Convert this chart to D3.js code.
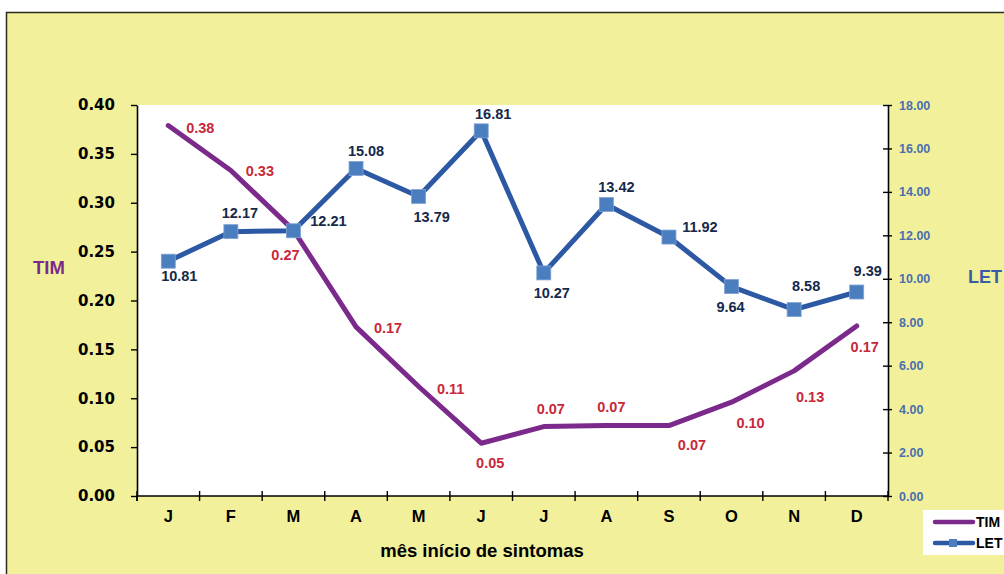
<!DOCTYPE html>
<html>
<head>
<meta charset="utf-8">
<script src="https://cdn.jsdelivr.net/npm/d3@7/dist/d3.min.js"></script>
<style>
  html, body { margin: 0; padding: 0; background: #ffffff; }
  svg { display: block; }
  text { font-family: "Liberation Sans", Arial, sans-serif; font-weight: bold; }
</style>
</head>
<body>
<svg id="chart" width="1004" height="574"></svg>
<script>
// Months of symptom onset
const months = ["J", "F", "M", "A", "M", "J", "J", "A", "S", "O", "N", "D"];
// TIM series (left axis)
const timValues = [0.379, 0.333, 0.272, 0.173, 0.112, 0.054, 0.071, 0.072, 0.072, 0.096, 0.128, 0.174];
// LET series (right axis)
const letValues = [10.81, 12.17, 12.21, 15.08, 13.79, 16.81, 10.27, 13.42, 11.92, 9.64, 8.58, 9.39];
// Axis tick values
const leftTicks = [0, 0.05, 0.10, 0.15, 0.20, 0.25, 0.30, 0.35, 0.40];
const rightTicks = [0, 2, 4, 6, 8, 10, 12, 14, 16, 18];

// Label placement relative to each point (dx, dy in px)
const timLabelOffset = [[32, 2], [29, 0], [-8, 25], [32, 1], [32, 2], [9, 20], [7, -18], [5, -19], [23, 19], [19, 21], [16, 26], [8, 21]];
const letLabelOffset = [[11, 15], [9, -19], [35, -10], [10, -18], [13, 20], [12, -17], [8, 20], [10, -18], [31, -10], [-1, 20], [12, -24], [11, -21]];

const colors = {
  bg: "#F2F09A",
  tim: "#7B2A8C",
  timLabel: "#C8283A",
  let: "#2D58A4",
  letMarker: "#4A7EBF",
  letLabel: "#14294B",
  rightTick: "#4A6FB0",
  letTitle: "#3A5BA6"
};

const svg = d3.select("#chart");

const plot = { left: 137, right: 888, top: 105, bottom: 496 };

// Outer frame
svg.append("rect")
  .attr("x", 6.5).attr("y", 12.5)
  .attr("width", 1010).attr("height", 600)
  .attr("fill", colors.bg)
  .attr("stroke", "#2b2b20").attr("stroke-width", 1.5);

// Plot area
svg.append("rect")
  .attr("x", plot.left).attr("y", plot.top)
  .attr("width", plot.right - plot.left).attr("height", plot.bottom - plot.top)
  .attr("fill", "#ffffff");

const x = d3.scaleBand().domain(d3.range(months.length)).range([plot.left, plot.right]).padding(0);
const cx = i => x(i) + x.bandwidth() / 2;
const yL = d3.scaleLinear().domain([0, 0.4]).range([plot.bottom, plot.top]);
const yR = d3.scaleLinear().domain([0, 18]).range([plot.bottom, plot.top]);

// Left axis
const gL = svg.append("g").attr("transform", `translate(${plot.left},0)`)
  .call(d3.axisLeft(yL).tickValues(leftTicks).tickFormat(d3.format(".2f")).tickSize(6).tickSizeOuter(0).tickPadding(16));
gL.select(".domain").attr("stroke", "#000").attr("stroke-width", 1.6);
gL.selectAll(".tick line").attr("stroke", "#000").attr("stroke-width", 1.4);
gL.selectAll(".tick text")
  .attr("fill", "#000")
  .style("font-family", "'DejaVu Sans', Verdana, sans-serif")
  .style("font-weight", "bold")
  .style("font-size", "15px");

// Right axis
const gR = svg.append("g").attr("transform", `translate(${plot.right},0)`)
  .call(d3.axisRight(yR).tickValues(rightTicks).tickFormat(d3.format(".2f")).tickSize(4).tickSizeOuter(0).tickPadding(7));
gR.select(".domain").attr("stroke", "#000").attr("stroke-width", 1.6);
gR.selectAll(".tick line").attr("x1", -5).attr("stroke", "#000").attr("stroke-width", 1.4);
gR.selectAll(".tick text")
  .attr("fill", colors.rightTick)
  .style("font-size", "12.5px");

// Bottom axis: month labels at band centres
const gB = svg.append("g").attr("transform", `translate(0,${plot.bottom})`)
  .call(d3.axisBottom(x).tickFormat(i => months[i]).tickSize(0).tickPadding(14));
gB.select(".domain").remove();
gB.selectAll(".tick text").attr("fill", "#000").style("font-size", "16.5px");

// Bottom axis line and ticks on band boundaries
svg.append("line")
  .attr("x1", plot.left - 1).attr("x2", plot.right)
  .attr("y1", plot.bottom).attr("y2", plot.bottom)
  .attr("stroke", "#000").attr("stroke-width", 1.6);
svg.append("line")
  .attr("x1", plot.left).attr("x2", plot.left)
  .attr("y1", plot.bottom).attr("y2", plot.bottom + 5)
  .attr("stroke", "#000").attr("stroke-width", 1.6);
svg.selectAll(".band-tick")
  .data(d3.range(months.length + 1))
  .join("line")
  .attr("class", "band-tick")
  .attr("x1", i => i < months.length ? x(i) : plot.right)
  .attr("x2", i => i < months.length ? x(i) : plot.right)
  .attr("y1", plot.bottom - 5).attr("y2", plot.bottom + 5)
  .attr("stroke", "#000").attr("stroke-width", 1.4);

// Axis titles
svg.append("text")
  .attr("x", 49).attr("y", 268).attr("dy", "0.35em")
  .attr("text-anchor", "middle")
  .attr("fill", colors.tim).style("font-size", "18.5px")
  .text("TIM");
svg.append("text")
  .attr("x", 968).attr("y", 277).attr("dy", "0.35em")
  .attr("fill", colors.letTitle).style("font-size", "18px")
  .text("LET");
svg.append("text")
  .attr("x", 482).attr("y", 551).attr("dy", "0.35em")
  .attr("text-anchor", "middle")
  .attr("fill", "#000").style("font-size", "18.5px")
  .text("mês início de sintomas");

// TIM line
svg.append("path")
  .datum(timValues)
  .attr("fill", "none")
  .attr("stroke", colors.tim)
  .attr("stroke-width", 5)
  .attr("stroke-linejoin", "round")
  .attr("stroke-linecap", "round")
  .attr("d", d3.line().x((d, i) => cx(i)).y(d => yL(d)));

// LET line
svg.append("path")
  .datum(letValues)
  .attr("fill", "none")
  .attr("stroke", colors.let)
  .attr("stroke-width", 5)
  .attr("stroke-linejoin", "round")
  .attr("d", d3.line().x((d, i) => cx(i)).y(d => yR(d)));

// LET markers
const m = 14;
svg.selectAll(".let-marker")
  .data(letValues)
  .join("rect")
  .attr("class", "let-marker")
  .attr("x", (d, i) => cx(i) - m / 2)
  .attr("y", d => yR(d) - m / 2)
  .attr("width", m).attr("height", m)
  .attr("fill", colors.letMarker)
  .attr("stroke", "#7FA3D4").attr("stroke-width", 0.8);

// Value labels
const fmt = d3.format(".2f");
svg.selectAll(".tim-label")
  .data(timValues)
  .join("text")
  .attr("class", "tim-label")
  .attr("x", (d, i) => cx(i) + timLabelOffset[i][0])
  .attr("y", (d, i) => yL(d) + timLabelOffset[i][1])
  .attr("dy", "0.35em")
  .attr("text-anchor", "middle")
  .attr("fill", colors.timLabel)
  .style("font-size", "14.5px")
  .text(d => fmt(d));

svg.selectAll(".let-label")
  .data(letValues)
  .join("text")
  .attr("class", "let-label")
  .attr("x", (d, i) => cx(i) + letLabelOffset[i][0])
  .attr("y", (d, i) => yR(d) + letLabelOffset[i][1])
  .attr("dy", "0.35em")
  .attr("text-anchor", "middle")
  .attr("fill", colors.letLabel)
  .style("font-size", "14.5px")
  .text(d => fmt(d));

// Legend
const lg = svg.append("g");
lg.append("rect")
  .attr("x", 923).attr("y", 510).attr("width", 90).attr("height", 45)
  .attr("fill", "#ffffff");
lg.append("line")
  .attr("x1", 935).attr("x2", 973).attr("y1", 522).attr("y2", 522)
  .attr("stroke", colors.tim).attr("stroke-width", 4.5).attr("stroke-linecap", "round");
lg.append("text")
  .attr("x", 976).attr("y", 522).attr("dy", "0.35em")
  .attr("fill", "#000").style("font-size", "14px")
  .text("TIM");
lg.append("line")
  .attr("x1", 935).attr("x2", 973).attr("y1", 543).attr("y2", 543)
  .attr("stroke", colors.let).attr("stroke-width", 4.5).attr("stroke-linecap", "round");
lg.append("rect")
  .attr("x", 949).attr("y", 539).attr("width", 8).attr("height", 8)
  .attr("fill", colors.letMarker);
lg.append("text")
  .attr("x", 976).attr("y", 543).attr("dy", "0.35em")
  .attr("fill", "#000").style("font-size", "14px")
  .text("LET");
</script>
</body>
</html>
